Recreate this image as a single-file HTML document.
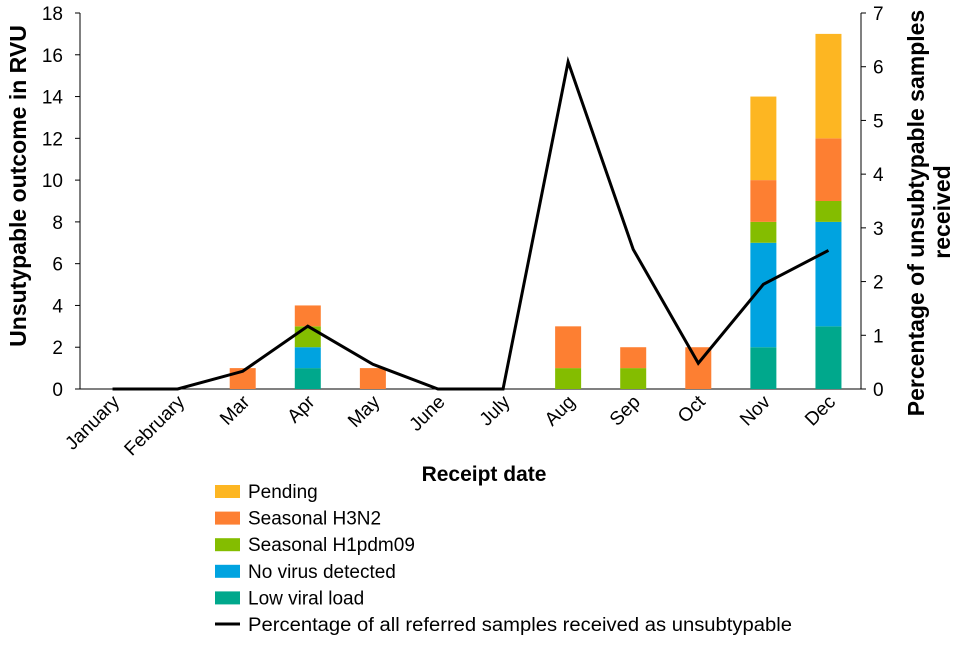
<!DOCTYPE html>
<html><head><meta charset="utf-8"><style>
body{margin:0;background:#fff;font-family:"Liberation Sans",Arial,sans-serif}
svg text{font-family:"Liberation Sans",Arial,sans-serif}
</style></head><body>
<svg id="chart" width="960" height="640"></svg>
<script>
const categories=["January","February","Mar","Apr","May","June","July","Aug","Sep","Oct","Nov","Dec"];
const lowViral=[0,0,0,1,0,0,0,0,0,0,2,3];
const noVirus=[0,0,0,1,0,0,0,0,0,0,5,5];
const h1=[0,0,0,1,0,0,0,1,1,0,1,1];
const h3=[0,0,1,1,1,0,0,2,1,2,2,3];
const pending=[0,0,0,0,0,0,0,0,0,0,4,5];
const pct=[0,0,0.33,1.17,0.46,0,0,6.09,2.6,0.48,1.95,2.58];
const leftTicks=[0,2,4,6,8,10,12,14,16,18];
const rightTicks=[0,1,2,3,4,5,6,7];
const seriesNames=["Pending","Seasonal H3N2","Seasonal H1pdm09","No virus detected","Low viral load"];

const NS="http://www.w3.org/2000/svg";
const svg=document.getElementById('chart');
function mk(t,a,p){const e=document.createElementNS(NS,t);for(const k in a)e.setAttribute(k,a[k]);(p||svg).appendChild(e);return e;}
const X0=80,X1=861,Y0=389,YT=13;
const bw=(X1-X0)/categories.length;
const xc=i=>X0+bw*(i+0.5);
const yL=v=>Y0-(Y0-YT)*v/18;
const yR=v=>Y0-(Y0-YT)*v/7;

let e;
e=mk('line',{x1:X0,y1:YT,x2:X0,y2:Y0,stroke:'#000','stroke-width':1});

e=mk('line',{x1:X1,y1:YT,x2:X1,y2:Y0,stroke:'#000','stroke-width':1});

e=mk('line',{x1:X0,y1:Y0,x2:X1,y2:Y0,stroke:'#000','stroke-width':1});

leftTicks.forEach(v=>{
  mk('line',{x1:X0-5,y1:yL(v),x2:X0,y2:yL(v),stroke:'#000'});
  e=mk('text',{x:X0-17,y:yL(v)+7,'text-anchor':'end','font-size':19});
  e.textContent=v;
  
});
rightTicks.forEach(v=>{
  mk('line',{x1:X1,y1:yR(v),x2:X1+5,y2:yR(v),stroke:'#000'});
  e=mk('text',{x:X1+12,y:yR(v)+7,'text-anchor':'start','font-size':19});
  e.textContent=v;
  
});
categories.forEach((c,i)=>{
  const ax=xc(i)+8, ay=Y0+14;
  e=mk('text',{x:ax,y:ay,'text-anchor':'end','font-size':19,transform:`rotate(-45 ${ax} ${ay})`});
  e.textContent=c;
  
});
const stack=[[lowViral,'#00A88C'],[noVirus,'#00A3E0'],[h1,'#84BD00'],[h3,'#FD7F32'],[pending,'#FDB622']];
const names=['low-viral-load','no-virus','h1pdm09','h3n2','pending'];
categories.forEach((c,i)=>{
  let base=0;
  stack.forEach(([arr,col],k)=>{
    const v=arr[i]; if(!v)return;
    e=mk('rect',{x:xc(i)-13,y:yL(base+v),width:26,height:yL(base)-yL(base+v),fill:col});
    
    base+=v;
  });
});
e=mk('polyline',{points:pct.map((v,i)=>xc(i)+','+yR(v)).join(' '),fill:'none',stroke:'#000','stroke-width':3,'stroke-linejoin':'miter'});

e=mk('text',{x:26,y:186,'text-anchor':'middle','font-size':23,'font-weight':'bold',transform:'rotate(-90 26 186)'});
e.textContent='Unsutypable outcome in RVU';

e=mk('text',{x:924,y:213,'text-anchor':'middle','font-size':23,'font-weight':'bold',transform:'rotate(-90 924 213)'});
e.textContent='Percentage  of unsubtypable samples';

e=mk('text',{x:950,y:212,'text-anchor':'middle','font-size':23,'font-weight':'bold',transform:'rotate(-90 950 212)'});
e.textContent='received';

e=mk('text',{x:484,y:481,'text-anchor':'middle','font-size':21,'font-weight':'bold'});
e.textContent='Receipt date';

const legCols=['#FDB622','#FD7F32','#84BD00','#00A3E0','#00A88C'];
seriesNames.forEach((n,k)=>{
  const y=491+k*26.6;
  e=mk('rect',{x:215,y:y-6,width:25,height:13,fill:legCols[k]});
  
  e=mk('text',{x:248,y:y+7,'font-size':19});
  e.textContent=n;
  
});
e=mk('line',{x1:215,y1:624,x2:240,y2:624,stroke:'#000','stroke-width':3});

e=mk('text',{x:248,y:631,'font-size':19,textLength:544,lengthAdjust:'spacingAndGlyphs'});
e.textContent='Percentage of all referred samples received as unsubtypable';

</script>
</body></html>
